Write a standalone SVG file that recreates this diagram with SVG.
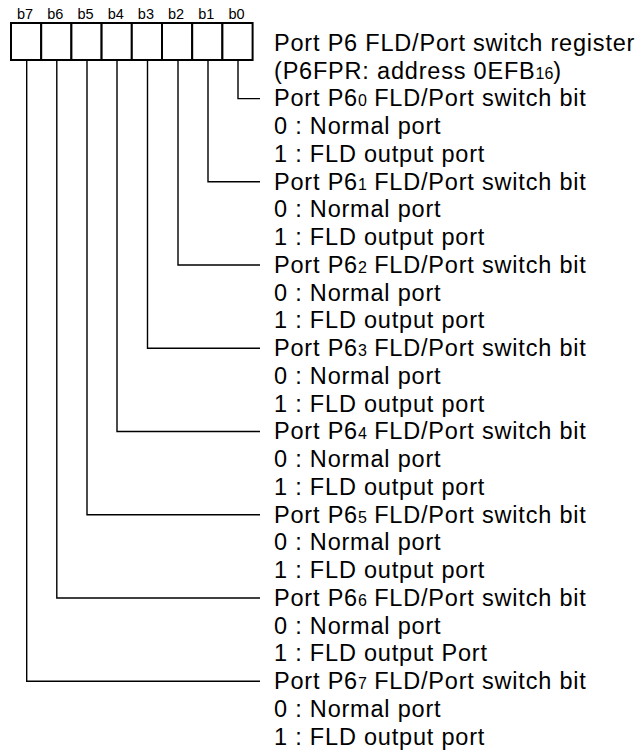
<svg xmlns="http://www.w3.org/2000/svg" width="642" height="752" viewBox="0 0 642 752">
<style>
text{font-family:"Liberation Sans",Arial,sans-serif;fill:#000}
.t{font-size:23.5px;letter-spacing:0.8px}
.s{font-size:16px;letter-spacing:0}
.b{font-size:14.5px;text-anchor:middle}
.cell{fill:#fff;stroke:#000;stroke-width:2}
.c{fill:none;stroke:#000;stroke-width:1.4}
</style>
<rect width="642" height="752" fill="#fff"/>
<g id="register">
<rect class="cell" x="11" y="23" width="30.2" height="37"/>
<rect class="cell" x="41.2" y="23" width="30.2" height="37"/>
<rect class="cell" x="71.4" y="23" width="30.2" height="37"/>
<rect class="cell" x="101.6" y="23" width="30.2" height="37"/>
<rect class="cell" x="131.8" y="23" width="30.2" height="37"/>
<rect class="cell" x="162" y="23" width="30.2" height="37"/>
<rect class="cell" x="192.2" y="23" width="30.2" height="37"/>
<rect class="cell" x="222.4" y="23" width="30.2" height="37"/>
<text class="b" x="25" y="18.5">b7</text>
<text class="b" x="55.3" y="18.5">b6</text>
<text class="b" x="85.5" y="18.5">b5</text>
<text class="b" x="115.7" y="18.5">b4</text>
<text class="b" x="145.9" y="18.5">b3</text>
<text class="b" x="176.1" y="18.5">b2</text>
<text class="b" x="206.3" y="18.5">b1</text>
<text class="b" x="236.5" y="18.5">b0</text>
<text class="t" x="274" y="51">Port P6 FLD/Port switch register</text>
<text class="t" x="274" y="78.5">(P6FPR: address 0EFB<tspan class="s">16</tspan>)</text>
</g>
<g id="connectors">
<polyline class="c" points="238,60 238,98.6 260,98.6"/>
<polyline class="c" points="208,60 208,181.8 260,181.8"/>
<polyline class="c" points="178,60 178,265 260,265"/>
<polyline class="c" points="147.5,60 147.5,348.3 260,348.3"/>
<polyline class="c" points="117,60 117,431.5 260,431.5"/>
<polyline class="c" points="87,60 87,514.8 260,514.8"/>
<polyline class="c" points="56.8,60 56.8,598 260,598"/>
<polyline class="c" points="26.7,60 26.7,681.3 260,681.3"/>
</g>
<g id="bit0">
<text class="t" x="274" y="106.3">Port P6<tspan class="s">0</tspan> FLD/Port switch bit</text>
<text class="t" x="274" y="134">0 : Normal port</text>
<text class="t" x="274" y="161.8">1 : FLD output port</text>
</g>
<g id="bit1">
<text class="t" x="274" y="189.5">Port P6<tspan class="s">1</tspan> FLD/Port switch bit</text>
<text class="t" x="274" y="217.3">0 : Normal port</text>
<text class="t" x="274" y="245">1 : FLD output port</text>
</g>
<g id="bit2">
<text class="t" x="274" y="272.8">Port P6<tspan class="s">2</tspan> FLD/Port switch bit</text>
<text class="t" x="274" y="300.5">0 : Normal port</text>
<text class="t" x="274" y="328.3">1 : FLD output port</text>
</g>
<g id="bit3">
<text class="t" x="274" y="356">Port P6<tspan class="s">3</tspan> FLD/Port switch bit</text>
<text class="t" x="274" y="383.8">0 : Normal port</text>
<text class="t" x="274" y="411.5">1 : FLD output port</text>
</g>
<g id="bit4">
<text class="t" x="274" y="439.3">Port P6<tspan class="s">4</tspan> FLD/Port switch bit</text>
<text class="t" x="274" y="467">0 : Normal port</text>
<text class="t" x="274" y="494.8">1 : FLD output port</text>
</g>
<g id="bit5">
<text class="t" x="274" y="522.5">Port P6<tspan class="s">5</tspan> FLD/Port switch bit</text>
<text class="t" x="274" y="550.3">0 : Normal port</text>
<text class="t" x="274" y="578">1 : FLD output port</text>
</g>
<g id="bit6">
<text class="t" x="274" y="605.8">Port P6<tspan class="s">6</tspan> FLD/Port switch bit</text>
<text class="t" x="274" y="633.5">0 : Normal port</text>
<text class="t" x="274" y="661.3">1 : FLD output Port</text>
</g>
<g id="bit7">
<text class="t" x="274" y="689">Port P6<tspan class="s">7</tspan> FLD/Port switch bit</text>
<text class="t" x="274" y="716.8">0 : Normal port</text>
<text class="t" x="274" y="744.5">1 : FLD output port</text>
</g>
</svg>
